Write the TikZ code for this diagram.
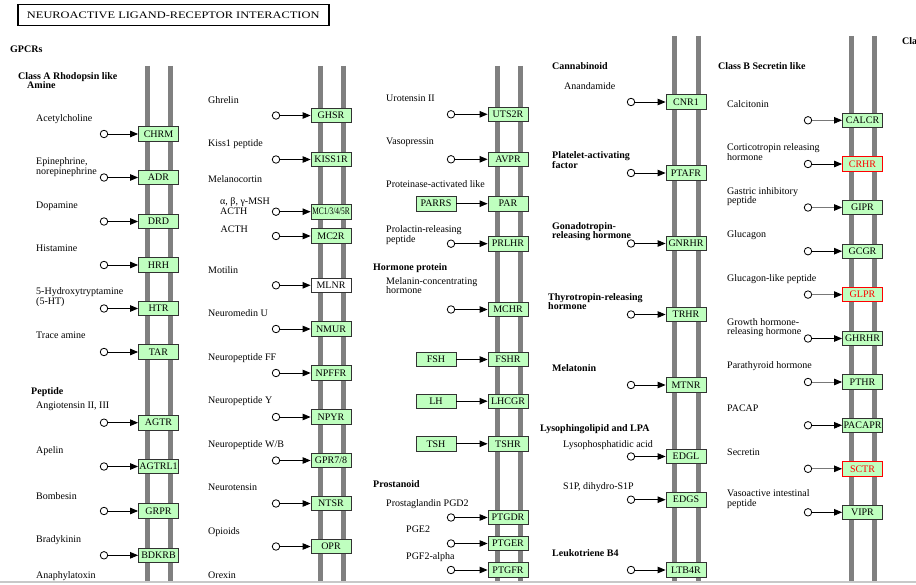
\documentclass[tikz,border=0pt]{standalone}
\usepackage{graphicx}
\usepackage{fontspec}
\setmainfont{Liberation Serif}
\usetikzlibrary{arrows.meta}
\definecolor{kgreen}{RGB}{191,255,191}
\definecolor{barg}{RGB}{128,128,128}
\definecolor{kred}{RGB}{255,0,0}
\definecolor{edgeg}{RGB}{50,50,50}
\definecolor{lineg}{RGB}{120,120,120}
\definecolor{bottomg}{RGB}{200,200,200}
\newcommand\labfont{\fontsize{10}{9.5}\selectfont}
\newcommand\genefont{\fontsize{10}{10}\selectfont}
\newcommand\hdrfont{\fontsize{10}{9.3}\selectfont\bfseries}
\newcommand\twol[2]{\vtop{\baselineskip=9.5pt\lineskiplimit=-20pt\lineskip=0pt\hbox{#1}\hbox{#2}}}
\tikzset{
  gene/.style={draw=edgeg, line width=0.8pt, fill=kgreen, minimum width=40pt, minimum height=14.5pt, inner sep=0pt, font=\genefont},
  redgene/.style={gene, draw=kred, text=kred},
  whitegene/.style={gene, fill=white},
  lig/.style={circle, draw=black, line width=0.8pt, fill=white, minimum size=7.5pt, inner sep=0pt},
  act/.style={-{Triangle[length=8pt,width=6.5pt,black]}, line width=0.9pt},
  lab/.style={anchor=base west, inner sep=0pt, font=\labfont},
  hdr/.style={anchor=base west, inner sep=0pt, font=\hdrfont},
  bar/.style={line width=5pt, draw=barg}
}
% #1 box style, #2 name, #3 text, #4 x, #5 y, #6 circle x
\newcommand\rcp[6][gene]{\node[#1] (#2) at (#4,#5) {#3}; \node[lig] (#2c) at (#6,#5) {}; \draw[act] (#2c) -- (#2);}
\newcommand\rcpG[6][gene]{\node[#1] (#2) at (#4,#5) {#3}; \node[lig] (#2c) at (#6,#5) {}; \draw[act, lineg] (#2c) -- (#2);}
\newcommand\lab[4]{\node[lab] (#1) at (#2,#3) {#4};}
\newcommand\hdr[4]{\node[hdr] (#1) at (#2,#3) {#4};}
\begin{document}
\begin{tikzpicture}[x=1pt,y=-1pt]
\useasboundingbox (0,0) rectangle (916,585);
\clip (0,0) rectangle (916,585);
\fill[white] (0,0) rectangle (916,585);
% membranes
\foreach \bx/\tp in {147/66,170/66,320/66,343/66,497/66,520/66,674/36,698/36,851/36,874/36}
  \draw[bar] (\bx,\tp) -- (\bx,581);
% title
\node[draw, line width=1.5pt, minimum width=311pt, minimum height=21pt, anchor=north west, inner sep=0pt] (title) at (17,4)
  {\scalebox{1.24}[1]{\fontsize{10}{12}\selectfont NEUROACTIVE LIGAND-RECEPTOR INTERACTION}};
% headers
\hdr{h1}{10}{52.5}{GPCRs}
\hdr{h2}{18}{80}{Class A Rhodopsin like}
\hdr{h3}{27}{89}{Amine}
\hdr{h4}{31}{394.5}{Peptide}
\hdr{h5}{373}{270.8}{Hormone protein}
\hdr{h6}{373}{487.8}{Prostanoid}
\hdr{h7}{552}{70}{Cannabinoid}
\hdr{h8}{552}{159}{\twol{Platelet-activating}{factor}}
\hdr{h9}{552}{229.5}{\twol{Gonadotropin-}{releasing hormone}}
\hdr{h10}{548}{300.5}{\twol{Thyrotropin-releasing}{hormone}}
\hdr{h11}{552}{371.8}{Melatonin}
\hdr{h12}{540}{431.2}{Lysophingolipid and LPA}
\hdr{h13}{552}{556.8}{Leukotriene B4}
\hdr{h14}{718}{69.5}{Class B Secretin like}
\hdr{h15}{902}{45}{Class C}
% column 1
\rcp{CHRM}{CHRM}{158.5}{134}{104}
\rcp{ADR}{ADR}{158.5}{177.5}{104}
\rcp{DRD}{DRD}{158.5}{221.5}{104}
\rcp{HRH}{HRH}{158.5}{265}{104}
\rcp{HTR}{HTR}{158.5}{308.5}{104}
\rcp{TAR}{TAR}{158.5}{352}{104}
\rcp{AGTR}{AGTR}{158.5}{422.7}{104}
\rcp{AGTRL}{AGTRL1}{158.5}{466.5}{104}
\rcp{GRPR}{GRPR}{158.5}{511}{104}
\rcp{BDKRB}{BDKRB}{158.5}{555.3}{104}
\lab{l1}{36}{121.5}{Acetylcholine}
\lab{l2}{36}{165}{\twol{Epinephrine,}{norepinephrine}}
\lab{l3}{36}{208.5}{Dopamine}
\lab{l4}{36}{252}{Histamine}
\lab{l5}{36}{295}{\twol{5-Hydroxytryptamine}{(5-HT)}}
\lab{l6}{36}{339}{Trace amine}
\lab{l7}{36}{408.5}{Angiotensin II, III}
\lab{l8}{36}{453.5}{Apelin}
\lab{l9}{36}{499}{Bombesin}
\lab{l10}{36}{542.5}{Bradykinin}
\lab{l11}{36}{578.5}{Anaphylatoxin}
% column 2
\rcp{GHSR}{GHSR}{331}{115.5}{276}
\rcp{KISS}{KISS1R}{331}{159.5}{276}
\rcp{MCa}{\scalebox{0.74}[1]{MC1/3/4/5R}}{331}{211.7}{276}
\rcp{MCb}{MC2R}{331}{236}{276}
\rcp[whitegene]{MLNR}{MLNR}{331}{285.3}{276}
\rcp{NMUR}{NMUR}{331}{329}{276}
\rcp{NPFFR}{NPFFR}{331}{373}{276}
\rcp{NPYR}{NPYR}{331}{417}{276}
\rcp{GPR}{GPR7/8}{331}{460.5}{276}
\rcp{NTSR}{NTSR}{331}{503.5}{276}
\rcp{OPR}{OPR}{331}{546.5}{276}
\lab{m1}{208}{103.5}{Ghrelin}
\lab{m2}{208}{147}{Kiss1 peptide}
\lab{m3}{208}{182.8}{Melanocortin}
\lab{m4}{220}{205}{\twol{α, β, γ-MSH}{ACTH}}
\lab{m5}{220.5}{233}{ACTH}
\lab{m6}{208}{273.5}{Motilin}
\lab{m7}{208}{316.8}{Neuromedin U}
\lab{m8}{208}{360.2}{Neuropeptide FF}
\lab{m9}{208}{403.5}{Neuropeptide Y}
\lab{m10}{208}{447.8}{Neuropeptide W/B}
\lab{m11}{208}{490.2}{Neurotensin}
\lab{m12}{208}{534.2}{Opioids}
\lab{m13}{208}{578.5}{Orexin}
% column 3
\rcp{UTS}{UTS2R}{508}{114.3}{451}
\rcp{AVPR}{AVPR}{508}{159.3}{451}
\node[gene] (PAR) at (508,203.7) {PAR};
\node[gene] (PARRS) at (436,203.7) {PARRS};
\draw[act] (PARRS) -- (PAR);
\rcp{PRLHR}{PRLHR}{508}{243.7}{451}
\rcp{MCHR}{MCHR}{508}{309.5}{451}
\node[gene] (FSHR) at (508,359.5) {FSHR};
\node[gene] (FSH) at (436,359.5) {FSH};
\draw[act] (FSH) -- (FSHR);
\node[gene] (LHCGR) at (508,401.2) {LHCGR};
\node[gene] (LH) at (436,401.2) {LH};
\draw[act] (LH) -- (LHCGR);
\node[gene] (TSHR) at (508,443.8) {TSHR};
\node[gene] (TSH) at (436,443.8) {TSH};
\draw[act] (TSH) -- (TSHR);
\rcp{PTGDR}{PTGDR}{508}{517.5}{451}
\rcp{PTGER}{PTGER}{508}{543.5}{451}
\rcp{PTGFR}{PTGFR}{508}{570}{451}
\lab{n1}{386}{101.8}{Urotensin II}
\lab{n2}{386}{144.5}{Vasopressin}
\lab{n3}{386}{187.8}{Proteinase-activated like}
\lab{n4}{386}{232.8}{\twol{Prolactin-releasing}{peptide}}
\lab{n5}{386}{284.2}{\twol{Melanin-concentrating}{hormone}}
\lab{n6}{386}{506.5}{Prostaglandin PGD2}
\lab{n7}{406}{532.5}{PGE2}
\lab{n8}{406}{559.5}{PGF2-alpha}
% column 4
\rcp{CNR}{CNR1}{686}{102}{631}
\rcp{PTAFR}{PTAFR}{686}{173}{631}
\rcp{GNRHR}{GNRHR}{686}{243.5}{631}
\rcp{TRHR}{TRHR}{686}{314.5}{631}
\rcp{MTNR}{MTNR}{686}{385}{631}
\rcp{EDGL}{EDGL}{686}{456.5}{631}
\rcp{EDGS}{EDGS}{686}{499.7}{631}
\rcp{LTBR}{LTB4R}{686}{570}{631}
\lab{o1}{564}{89.5}{Anandamide}
\lab{o2}{563}{447.5}{Lysophosphatidic acid}
\lab{o3}{563}{489.5}{S1P, dihydro-S1P}
% column 5
\rcpG{CALCR}{CALCR}{862.5}{120.3}{808}
\rcp[redgene]{CRHR}{CRHR}{862.5}{164}{808}
\rcpG{GIPR}{GIPR}{862.5}{207.5}{808}
\rcp{GCGR}{GCGR}{862.5}{251.2}{808}
\rcpG[redgene]{GLPR}{GLPR}{862.5}{294.6}{808}
\rcp{GHRHR}{GHRHR}{862.5}{338.5}{808}
\rcpG{PTHR}{PTHR}{862.5}{382}{808}
\rcp{PACAPR}{PACAPR}{862.5}{425.3}{808}
\rcpG[redgene]{SCTR}{SCTR}{862.5}{468.8}{808}
\rcp{VIPR}{VIPR}{862.5}{512.3}{808}
\lab{p1}{727}{107.5}{Calcitonin}
\lab{p2}{727}{150.8}{\twol{Corticotropin releasing}{hormone}}
\lab{p3}{727}{194.5}{\twol{Gastric inhibitory}{peptide}}
\lab{p4}{727}{237.5}{Glucagon}
\lab{p5}{727}{281.8}{Glucagon-like peptide}
\lab{p6}{727}{325.2}{\twol{Growth hormone-}{releasing hormone}}
\lab{p7}{727}{368.5}{Parathyroid hormone}
\lab{p8}{727}{411.8}{PACAP}
\lab{p9}{727}{455.2}{Secretin}
\lab{p10}{727}{496.8}{\twol{Vasoactive intestinal}{peptide}}
% bottom edge
\fill[white] (0,582.5) rectangle (916,585);
\draw[line width=2pt, bottomg] (0,581.5) -- (916,581.5);
\end{tikzpicture}
\end{document}
